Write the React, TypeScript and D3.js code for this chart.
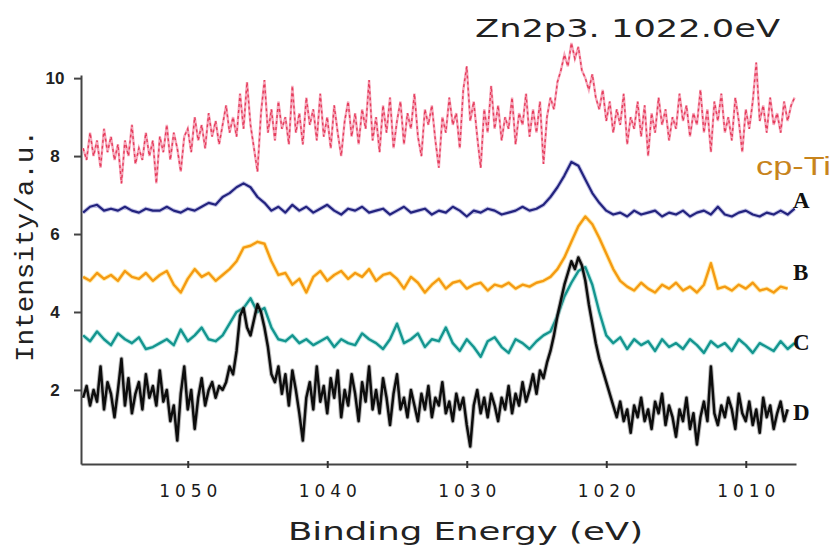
// App.tsx - XPS Zn2p3 spectra

import React, { useEffect, useRef } from "react";
import * as d3 from "d3";

// binding energy grids (eV)
const energy = d3.range(103).map((i) => 1057.5 - i * 0.5);
const energyFine = d3.range(205).map((i) => 1057.5 - i * 0.25);

// cp-Ti (dashed pink), 0.25 eV steps
const cpTi = [
  8.2, 7.9, 8.6, 8.0, 8.4, 7.7, 8.7, 8.1, 8.5, 7.9,
  8.3, 7.3, 8.4, 8.0, 8.8, 7.8, 8.2, 7.9, 8.6, 8.0,
  8.4, 7.3, 8.5, 8.1, 8.8, 7.9, 8.6, 8.2, 7.6, 8.5,
  8.7, 8.1, 9.0, 8.4, 8.8, 8.2, 9.1, 8.5, 8.9, 8.3,
  8.8, 9.3, 8.6, 9.0, 8.5, 9.6, 8.7, 9.9, 8.8, 8.2,
  7.6, 9.1, 9.95, 8.6, 9.2, 8.4, 9.4, 8.7, 9.0, 8.3,
  9.8, 8.6, 9.1, 8.3, 9.5, 8.8, 9.2, 8.4, 9.6, 8.5,
  9.0, 8.2, 9.3, 8.6, 8.0, 8.9, 9.4, 8.5, 9.1, 8.3,
  9.2, 8.7, 9.95, 8.4, 9.0, 8.1, 9.3, 8.6, 9.5, 8.2,
  8.9, 9.4, 8.3, 9.1, 8.7, 9.6, 8.5, 8.0, 9.2, 8.8,
  9.3, 8.4, 7.7, 9.0, 8.6, 9.5, 8.8, 9.1, 8.2, 9.7,
  10.3, 8.9, 9.4, 8.5, 7.7, 9.2, 8.6, 9.8, 8.7, 9.3,
  8.4, 9.0, 8.7, 9.5, 8.3, 9.1, 8.8, 9.6, 8.5, 9.2,
  8.6, 9.4, 7.8, 9.0, 9.5, 9.2, 9.9, 10.2, 10.6, 10.3,
  10.9, 10.5, 10.8, 10.2, 10.0, 9.7, 10.1, 9.5, 9.2, 9.7,
  8.9, 9.4, 8.6, 9.2, 8.8, 9.6, 8.3, 9.0, 8.7, 9.4,
  8.5, 9.3, 8.0, 9.1, 8.6, 9.5, 8.8, 9.2, 8.4, 9.0,
  8.7, 9.6, 8.9, 9.3, 8.5, 9.1, 8.8, 9.7, 8.6, 9.2,
  8.1, 9.4, 8.9, 9.6, 8.6, 9.0, 8.4, 9.5, 8.9, 8.1,
  9.2, 8.7, 9.4, 10.4, 8.9, 9.3, 8.6, 9.5, 8.8, 9.1,
  8.6, 9.4, 8.9, 9.3, 9.5,
];

// A, B, C at 0.5 eV steps
const seriesA = [
  6.55, 6.7, 6.75, 6.6, 6.65, 6.6, 6.7, 6.6, 6.55, 6.65, 6.6, 6.6, 6.7, 6.6, 6.55, 6.65, 6.6, 6.7,
  6.8, 6.75, 6.95, 7.05, 7.2, 7.3, 7.2, 6.95, 6.8, 6.6,
  6.7, 6.55, 6.75, 6.6, 6.7, 6.55, 6.65, 6.75, 6.6, 6.5, 6.65, 6.6, 6.7, 6.55, 6.6, 6.65, 6.5, 6.6, 6.7, 6.55, 6.6,
  6.65, 6.5, 6.6, 6.55, 6.7, 6.6, 6.45, 6.6, 6.55, 6.65, 6.6, 6.5, 6.55, 6.6, 6.7, 6.6, 6.65,
  6.75, 6.95, 7.2, 7.5, 7.85, 7.75, 7.4, 7.05, 6.8, 6.6,
  6.5, 6.55, 6.45, 6.6, 6.5, 6.55, 6.6, 6.45, 6.55, 6.5, 6.6, 6.45, 6.55, 6.6, 6.5, 6.7, 6.5, 6.45, 6.55, 6.6, 6.5, 6.45, 6.55, 6.5, 6.6, 6.5, 6.65,
];

const seriesB = [
  4.9, 4.8, 5.0, 4.85, 4.95, 4.8, 5.05, 4.9, 4.85, 5.0, 4.8, 4.95, 5.05, 4.7, 4.5, 4.85, 5.1, 4.9, 5.0, 4.8, 4.95, 5.1,
  5.3, 5.65, 5.7, 5.8, 5.75, 5.3, 4.95,
  5.0, 4.7, 4.85, 4.5, 4.9, 5.05, 4.8, 4.95, 5.05, 4.85, 5.0, 4.9, 5.1, 4.8, 4.95, 5.0, 4.85, 4.6, 4.9, 4.75, 4.5,
  4.7, 4.85, 4.6, 4.75, 4.8, 4.6, 4.7, 4.75, 4.55, 4.7, 4.65, 4.75, 4.6, 4.7, 4.65, 4.75, 4.8, 4.9,
  5.1, 5.4, 5.8, 6.2, 6.45, 6.25, 5.9, 5.5, 5.1, 4.8,
  4.65, 4.55, 4.75, 4.6, 4.5, 4.7, 4.6, 4.75, 4.55, 4.65, 4.5, 4.7, 5.25, 4.6, 4.65, 4.55, 4.7, 4.6, 4.75, 4.55, 4.6, 4.5, 4.65, 4.6,
];

const seriesC = [
  3.4, 3.25, 3.5, 3.3, 3.15, 3.45, 3.3, 3.2, 3.35, 3.05, 3.1, 3.2, 3.3, 3.15, 3.55, 3.25, 3.4, 3.6, 3.3, 3.25, 3.4,
  3.7, 4.0, 4.1, 4.35, 4.0, 4.1, 3.6,
  3.3, 3.25, 3.4, 3.2, 3.3, 3.15, 3.25, 3.35, 3.1, 3.3, 3.2, 3.15, 3.45, 3.3, 3.2, 3.05, 3.3, 3.7, 3.2, 3.3, 3.45, 3.1,
  3.3, 3.25, 3.6, 3.2, 3.0, 3.3, 3.1, 2.85, 3.25, 3.35, 3.1, 2.95, 3.3, 3.2, 3.05, 3.25, 3.4, 3.5,
  3.9, 4.4, 4.75, 5.05, 5.15, 4.7, 4.0, 3.4,
  3.2, 3.35, 3.05, 3.3, 3.15, 3.25, 3.0, 3.3, 3.1, 3.2, 3.05, 3.3, 3.15, 2.95, 3.25, 3.1, 3.2, 3.0, 3.3, 3.15, 2.95, 3.2, 3.1, 3.0, 3.25, 3.05, 3.2,
];

// D at 0.25 eV steps
const seriesD = [
  1.8, 2.1, 1.6, 2.0, 1.7, 2.6, 1.5, 2.2, 1.9, 1.3,
  2.0, 2.8, 1.6, 2.3, 1.4, 1.9, 2.2, 1.5, 2.4, 1.8,
  2.1, 1.6, 2.5, 1.7, 2.0, 1.2, 1.6, 0.7, 1.9, 2.6,
  1.5, 2.0, 1.0, 1.8, 2.3, 1.6, 2.0, 2.2, 1.8, 2.1,
  2.0, 2.2, 2.6, 2.4, 3.0, 3.9, 4.1, 3.6, 3.4, 3.8,
  4.2, 4.0, 3.6, 3.1, 2.4, 2.2, 2.6, 1.9, 2.4, 1.6,
  2.5, 2.0, 1.4, 0.7, 1.8, 2.2, 1.5, 2.6, 1.7, 2.1,
  1.4, 2.3, 1.8, 2.5, 1.3, 2.0, 1.6, 2.4, 1.9, 1.2,
  2.2, 1.7, 2.6, 1.5, 2.0, 1.4, 2.3, 1.8, 1.1, 1.9,
  2.4, 1.5, 1.8, 1.3, 2.0, 1.6, 1.2, 1.9, 1.5, 2.1,
  1.3, 1.8, 1.6, 2.2, 1.4, 1.7, 1.2, 1.9, 1.5, 1.8,
  1.1, 0.55, 1.6, 2.0, 1.4, 1.8, 1.3, 1.9, 1.6, 1.2,
  1.8, 1.5, 2.1, 1.4, 1.9, 1.6, 2.2, 1.7, 2.0, 2.4,
  1.9, 2.5, 2.3, 2.7, 3.0, 3.4, 3.9, 4.3, 4.7, 5.0,
  5.3, 5.1, 5.4, 5.2, 4.8, 4.2, 3.7, 3.2, 2.8, 2.5,
  2.2, 1.9, 1.6, 1.3, 1.7, 1.2, 1.5, 0.9, 1.6, 1.3,
  1.8, 1.2, 1.5, 1.0, 1.7, 1.4, 1.9, 1.1, 1.6, 1.3,
  0.8, 1.5, 1.2, 1.8, 1.0, 1.4, 0.6, 1.3, 1.7, 1.2,
  2.6, 1.4, 1.1, 1.6, 1.3, 1.8, 1.5, 1.0, 1.9, 1.4,
  1.2, 1.7, 1.1, 1.5, 0.9, 1.8, 1.3, 1.6, 1.0, 1.4,
  1.7, 1.2, 1.5,
];

const xTicks = [1050, 1040, 1030, 1020, 1010];
const yTicks = [2, 4, 6, 8, 10];

const App = () => {
  const svgRef = useRef<SVGSVGElement>(null);
  const width = 833;
  const height = 545;

  useEffect(() => {
    const svg = d3.select(svgRef.current);
    svg.selectAll("*").remove();

    const x = d3.scaleLinear().domain([1057.65, 1006.4]).range([81, 796]);
    const y = d3.scaleLinear().domain([0.1, 10.08]).range([464, 75]);

    // y axis
    const gy = svg
      .append("g")
      .attr("transform", "translate(81,0)")
      .call(d3.axisLeft(y).tickValues(yTicks).tickSize(7).tickSizeOuter(0));
    gy.select(".domain").attr("stroke", "#444").attr("stroke-width", 2);
    gy.selectAll(".tick line").attr("stroke", "#444").attr("stroke-width", 2);
    gy.selectAll(".tick text")
      .attr("x", -26)
      .attr("text-anchor", "middle")
      .style("font-family", "Liberation Sans, Arial, sans-serif")
      .style("font-size", "17px")
      .style("font-weight", "bold")
      .attr("fill", "#222");

    // x axis
    const gx = svg
      .append("g")
      .attr("transform", "translate(0,464)")
      .call(d3.axisBottom(x).tickValues(xTicks).tickSize(4).tickSizeOuter(0).tickFormat(d3.format("d")));
    gx.select(".domain").attr("stroke", "#444").attr("stroke-width", 2);
    gx.selectAll(".tick line").attr("y1", -3).attr("y2", 4).attr("stroke", "#333").attr("stroke-width", 2);
    gx.selectAll(".tick text")
      .attr("y", 33)
      .attr("dy", 0)
      .attr("textLength", 58)
      .attr("lengthAdjust", "spacing")
      .style("font-family", "DejaVu Sans, sans-serif")
      .style("font-size", "17px")
      .attr("fill", "#1a1a1a");

    const line = (grid: number[]) =>
      d3
        .line<number>()
        .x((d, i) => x(grid[i]))
        .y((d) => y(d));

    // cp-Ti: pink with red dashes
    svg.append("path").datum(cpTi).attr("d", line(energyFine)).attr("fill", "none")
      .attr("stroke", "#f6a8bb").attr("stroke-width", 2.4);
    svg.append("path").datum(cpTi).attr("d", line(energyFine)).attr("fill", "none")
      .attr("stroke", "#e53d5c").attr("stroke-width", 1.4).attr("stroke-dasharray", "3,3");

    const styled = [
      { data: seriesA, grid: energy, halo: "#8a8ad0", core: "#23237e", w: 2.2 },
      { data: seriesB, grid: energy, halo: "#ffd75a", core: "#f59a12", w: 2.4 },
      { data: seriesC, grid: energy, halo: "#7fd6d0", core: "#14958f", w: 2.4 },
      { data: seriesD, grid: energyFine, halo: "#777", core: "#0d0d0d", w: 2.5 },
    ];
    styled.forEach((s) => {
      svg.append("path").datum(s.data).attr("d", line(s.grid)).attr("fill", "none")
        .attr("stroke", s.halo).attr("stroke-width", s.w + 2).attr("stroke-opacity", 0.5)
        .attr("stroke-linejoin", "round");
      svg.append("path").datum(s.data).attr("d", line(s.grid)).attr("fill", "none")
        .attr("stroke", s.core).attr("stroke-width", s.w).attr("stroke-linejoin", "round");
    });

    // title
    svg.append("text").attr("x", 475).attr("y", 37)
      .attr("textLength", 305).attr("lengthAdjust", "spacingAndGlyphs")
      .style("font-family", "DejaVu Sans, sans-serif").style("font-size", "24px")
      .attr("fill", "#222").text("Zn2p3. 1022.0eV");

    // axis titles
    svg.append("text").attr("x", 288).attr("y", 540)
      .attr("textLength", 355).attr("lengthAdjust", "spacingAndGlyphs")
      .style("font-family", "DejaVu Sans, sans-serif").style("font-size", "25px")
      .attr("fill", "#222").text("Binding Energy (eV)");

    svg.append("text").attr("transform", "translate(33,246) rotate(-90)")
      .attr("text-anchor", "middle")
      .attr("textLength", 232).attr("lengthAdjust", "spacingAndGlyphs")
      .style("font-family", "Liberation Mono, monospace").style("font-size", "26px")
      .attr("fill", "#222").text("Intensity/a.u.");

    // legend texts
    svg.append("text").attr("x", 756).attr("y", 175)
      .attr("textLength", 75).attr("lengthAdjust", "spacingAndGlyphs")
      .style("font-family", "Liberation Sans, Arial, sans-serif").style("font-size", "25px")
      .attr("fill", "#c8841c").text("cp-Ti");

    const tags = [
      { t: "A", yv: 208 },
      { t: "B", yv: 280 },
      { t: "C", yv: 350 },
      { t: "D", yv: 420 },
    ];
    svg.selectAll(".tag").data(tags).enter().append("text")
      .attr("class", "tag")
      .attr("x", 793).attr("y", (d) => d.yv)
      .style("font-family", "Liberation Serif, Times New Roman, serif")
      .style("font-size", "23px").style("font-weight", "bold")
      .attr("fill", "#111").text((d) => d.t);
  }, []);

  return (
    <div>
      <svg
        ref={svgRef}
        width={width}
        height={height}
        style={{ position: "absolute", left: 0, top: 0, background: "#fff" }}
      ></svg>
    </div>
  );
};

export default App;
